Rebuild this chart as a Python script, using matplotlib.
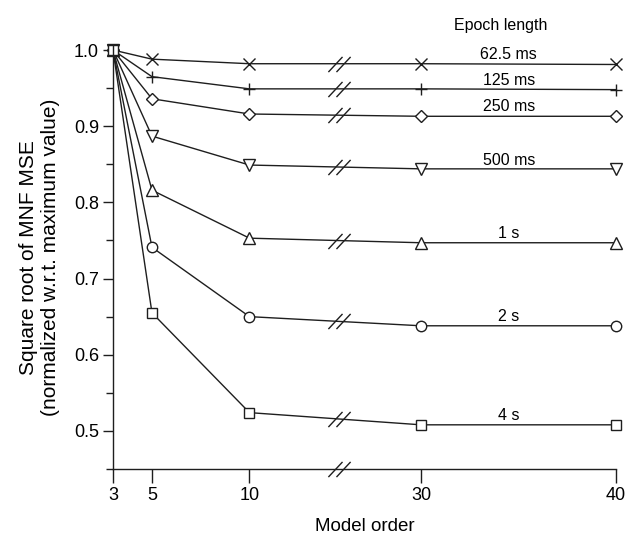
import numpy as np
import matplotlib
matplotlib.use("Agg")
import matplotlib.pyplot as plt
from matplotlib.path import Path
from matplotlib.markers import MarkerStyle

plt.rcParams['font.family'] = ['Liberation Sans', 'DejaVu Sans']

# ---- data ----
model_order = [3, 5, 10, 30, 40]
labels = ["62.5 ms", "125 ms", "250 ms", "500 ms", "1 s", "2 s", "4 s"]
markers = ["x", "+", "D", "v", "^", "o", "s"]
s_62_5ms = [1.0, 0.988, 0.982, 0.982, 0.981]
s_125ms = [1.0, 0.965, 0.949, 0.949, 0.948]
s_250ms = [1.0, 0.936, 0.916, 0.913, 0.913]
s_500ms = [1.0, 0.887, 0.849, 0.844, 0.844]
s_1s = [1.0, 0.816, 0.753, 0.747, 0.747]
s_2s = [1.0, 0.741, 0.650, 0.638, 0.638]
s_4s = [1.0, 0.655, 0.524, 0.508, 0.508]
series = [s_62_5ms, s_125ms, s_250ms, s_500ms, s_1s, s_2s, s_4s]
xticks = [3, 5, 10, 30, 40]
yticks = [0.5, 0.6, 0.7, 0.8, 0.9, 1.0]

# ---- broken x scale ----
BREAK_X = 14.6
xp = [0, BREAK_X, 30, 100]
fp = [0, BREAK_X, 18.8, 88.8]
fwd = lambda x: np.interp(x, xp, fp)
inv = lambda p: np.interp(p, fp, xp)

fig = plt.figure(figsize=(6.27, 5.36), dpi=100)
ax = fig.add_axes([0.1802, 0.125, 0.8022, 0.7888])
ax.set_xscale('function', functions=(fwd, inv))
ax.set_xlim(3, 40)
ax.set_ylim(0.45, 1.005)

col = '#1e1e1e'
msizes = {"x": 8, "+": 8, "D": 6, "v": 8.5, "^": 8.5, "o": 7.5, "s": 7}
for vals, m in zip(series, markers):
    ax.plot(model_order, vals, color=col, lw=1.0, marker=m,
            markersize=msizes[m], markerfacecolor='white',
            markeredgecolor=col, markeredgewidth=1.0, clip_on=False)

# break marks
brk = Path([(-11, -7.5), (3, 7.5), (-3, -7.5), (11, 7.5)],
           [Path.MOVETO, Path.LINETO, Path.MOVETO, Path.LINETO])
pb = fwd(BREAK_X)
p10, p30 = fwd(10), fwd(30)
t = (pb - p10) / (p30 - p10)
for vals in series:
    yb = vals[2] + t * (vals[3] - vals[2])
    ax.plot([BREAK_X], [yb], marker=MarkerStyle(brk), markersize=16,
            color=col, markeredgewidth=1.0, linestyle='none')
ax.plot([BREAK_X], [0.45], marker=MarkerStyle(brk), markersize=16,
        color=col, markeredgewidth=1.0, linestyle='none', clip_on=False)

# series labels
offsets = [7, 6, 7, 6, 7, 7, 7]
for vals, lab, off in zip(series, labels, offsets):
    ax.annotate(lab, xy=(34.5, vals[3]), xytext=(0, off),
                textcoords='offset points', ha='center', va='center',
                fontsize=11.5)
ax.annotate("Epoch length", xy=(34.1, 1.032), ha='center', va='center',
            fontsize=11.5, annotation_clip=False)

ax.set_xticks(xticks)
ax.set_xticklabels([str(v) for v in xticks])
ax.set_yticks(yticks)
ax.set_yticklabels([f"{v:.1f}" for v in yticks])
ax.set_yticks(np.arange(0.45, 1.0, 0.1), minor=True)
ax.xaxis.set_minor_locator(matplotlib.ticker.NullLocator())
ax.tick_params(axis='both', which='major', labelsize=13, direction='out',
               width=1.0, color=col)
ax.tick_params(axis='x', which='major', length=10, pad=3)
ax.tick_params(axis='y', which='major', length=7, pad=3)
ax.tick_params(axis='y', which='minor', length=5, width=1.0, color=col)

for s in ['top', 'right']:
    ax.spines[s].set_visible(False)
for s in ['left', 'bottom']:
    ax.spines[s].set_linewidth(1.0)
    ax.spines[s].set_color(col)

ax.set_xlabel("Model order", fontsize=13.5, labelpad=10)
ax.set_ylabel("Square root of MNF MSE\n(normalized w.r.t. maximum value)",
              fontsize=15, labelpad=10)

fig.savefig("out.png", dpi=100)
